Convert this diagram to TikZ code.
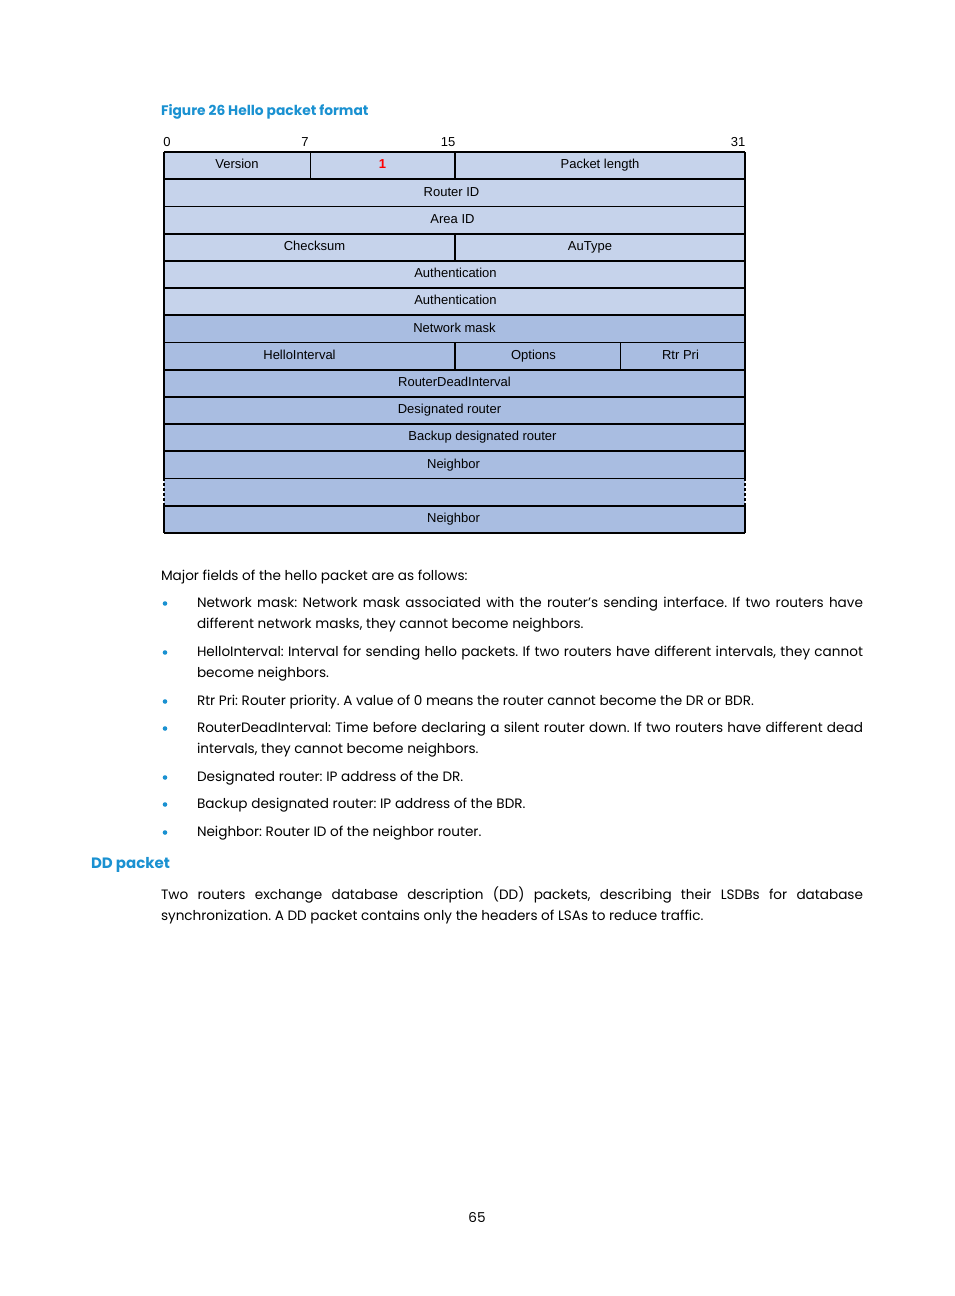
\documentclass[tikz,border=0pt]{standalone}
\usepackage{fontspec}
\setmainfont{Poppins}
\newfontfamily\arialfont{Liberation Sans}
\usetikzlibrary{positioning}
\definecolor{hpblue}{HTML}{1A91D1}
\definecolor{lightfield}{HTML}{C6D3EB}
\definecolor{darkfield}{HTML}{A9BDE1}
\frenchspacing

\begin{document}
\begin{tikzpicture}[
    x=1pt, y=-1pt,
    every node/.style={inner sep=0pt, outer sep=0pt},
    field/.style={rectangle, fill=#1, minimum height=27.2pt, anchor=west,
                  font=\arialfont\fontsize{13}{15}\selectfont},
    field/.default=lightfield,
    tag/.style args={#1:#2}{label={[xshift=#1, text height=9.3pt, text depth=2.7pt,
                  font=\arialfont\fontsize{13}{15}\selectfont]center:#2}},
    bitnum/.style={anchor=base, font=\arialfont\fontsize{13}{15}\selectfont},
    rule/.style={line width=1.8pt},
    thinrule/.style={line width=0.9pt},
    body/.style={anchor=base west, align=justify, text width=#1,
                 font=\fontsize{13.6}{21}\selectfont},
    body/.default=666pt,
    bullet/.style={circle, fill=hpblue, minimum size=4.6pt},
    heading/.style={anchor=base west, text=hpblue, font=\bfseries\fontsize{13.8}{17}\selectfont},
]
\useasboundingbox (0,0) rectangle (954,1296);

% --- caption --------------------------------------------------------
\node[heading] (cap) at (161,115) {Figure 26 Hello packet format};

% --- bit positions --------------------------------------------------
\node[bitnum] (bit0)  at (167,146) {0};
\node[bitnum] (bit7)  at (305,146) {7};
\node[bitnum] (bit15) at (448,146) {15};
\node[bitnum] (bit31) at (738,146) {31};

% --- packet fields (light rows) --------------------------------------
\node[field, minimum width=146pt, tag=0pt:Version] (ver) at (164,165.6) {};
\node[field, minimum width=145pt, right=0pt of ver,
      tag={0pt:\textcolor{red}{\bfseries 1}}] (one) {};
\node[field, minimum width=290pt, right=0pt of one, tag=0pt:Packet length] (plen) {};
\node[field, minimum width=581pt, tag=-3pt:Router ID]        (rid)   at (164,192.8) {};
\node[field, minimum width=581pt, tag=-2pt:Area ID]          (aid)   at (164,220.0) {};
\node[field, minimum width=291pt, tag=5pt:Checksum]          (chk)   at (164,247.2) {};
\node[field, minimum width=290pt, right=0pt of chk, tag=-10pt:AuType] (aut) {};
\node[field, minimum width=581pt, tag=1pt:Authentication]    (auth1) at (164,274.4) {};
\node[field, minimum width=581pt, tag=1pt:Authentication]    (auth2) at (164,301.6) {};

% --- packet fields (dark rows) ---------------------------------------
\node[field=darkfield, minimum width=581pt, tag=0pt:Network mask]  (nmask) at (164,328.8) {};
\node[field=darkfield, minimum width=291pt, tag=-10pt:HelloInterval] (hint) at (164,356.0) {};
\node[field=darkfield, minimum width=165pt, right=0pt of hint, tag=-4pt:Options] (opt) {};
\node[field=darkfield, minimum width=125pt, right=0pt of opt, tag=-2pt:Rtr Pri] (rpri) {};
\node[field=darkfield, minimum width=581pt, tag=0pt:RouterDeadInterval] (rdi) at (164,383.2) {};
\node[field=darkfield, minimum width=581pt, tag=-5pt:Designated router]  (dr)  at (164,410.4) {};
\node[field=darkfield, minimum width=581pt, tag=28pt:Backup designated router] (bdr) at (164,437.6) {};
\node[field=darkfield, minimum width=581pt, tag=-1pt:Neighbor] (nb1) at (164,464.8) {};
\node[field=darkfield, minimum width=581pt] (gap) at (164,492.0) {};
\node[field=darkfield, minimum width=581pt, tag=-1pt:Neighbor] (nb2) at (164,519.2) {};

% --- row separators -------------------------------------------------
\draw[rule] (ver.north west) -- (plen.north east);
\draw[rule] (chk.north west) -- (aut.north east);
\draw[rule] (hint.north west) -- (rpri.north east);
\foreach \r in {rid,aid,auth1,auth2,nmask,rdi,dr,bdr,nb1,nb2}
  \draw[rule] (\r.north west) -- (\r.north east);
\draw[thinrule] (gap.north west) -- (gap.north east);
\draw[rule] (nb2.south west) -- (nb2.south east);

% --- outer edges, dashed across the gap row --------------------------
\draw[rule] (ver.north west) -- (nb1.south west);
\draw[rule] (plen.north east) -- (nb1.south east);
\draw[rule, dash pattern=on 3pt off 2pt] (gap.north west) -- (gap.south west);
\draw[rule, dash pattern=on 3pt off 2pt] (gap.north east) -- (gap.south east);
\draw[rule] (nb2.north west) -- (nb2.south west);
\draw[rule] (nb2.north east) -- (nb2.south east);

% --- field dividers -------------------------------------------------
\draw[thinrule] (ver.north east) -- (ver.south east);
\draw[rule] (one.north east) -- (one.south east);
\draw[rule] (chk.north east) -- (chk.south east);
\draw[rule] (hint.north east) -- (hint.south east);
\draw[thinrule] (opt.north east) -- (opt.south east);

% --- field list -----------------------------------------------------
\node[body=702pt] (intro) at (161,580) {Major fields of the hello packet are as follows:};
\node[bullet] (dot1) at (165,603.5) {};
\node[body] (item1) at (197,607) {Network mask: Network mask associated with the router’s sending interface. If two routers have\linebreak different network masks, they cannot become neighbors.};
\node[bullet] (dot2) at (165,652.5) {};
\node[body] (item2) at (197,656) {HelloInterval: Interval for sending hello packets. If two routers have different intervals, they cannot\linebreak become neighbors.};
\node[bullet] (dot3) at (165,701.5) {};
\node[body] (item3) at (197,705) {Rtr Pri: Router priority. A value of 0 means the router cannot become the DR or BDR.};
\node[bullet] (dot4) at (165,728.5) {};
\node[body] (item4) at (197,732) {RouterDeadInterval: Time before declaring a silent router down. If two routers have different dead\linebreak intervals, they cannot become neighbors.};
\node[bullet] (dot5) at (165,777.5) {};
\node[body] (item5) at (197,781) {Designated router: IP address of the DR.};
\node[bullet] (dot6) at (165,804.5) {};
\node[body] (item6) at (197,808) {Backup designated router: IP address of the BDR.};
\node[bullet] (dot7) at (165,832.5) {};
\node[body] (item7) at (197,836) {Neighbor: Router ID of the neighbor router.};

% --- next section ---------------------------------------------------
\node[heading, font=\bfseries\fontsize{15}{19}\selectfont] (ddhead) at (91,868) {DD packet};
\node[body=702pt] (ddtext) at (161,899) {Two routers exchange database description (DD) packets, describing their LSDBs for database\linebreak synchronization. A DD packet contains only the headers of LSAs to reduce traffic.};

% --- page number ----------------------------------------------------
\node[anchor=base, font=\fontsize{13.6}{17}\selectfont] (pgnum) at (477,1222) {65};
\end{tikzpicture}
\end{document}
